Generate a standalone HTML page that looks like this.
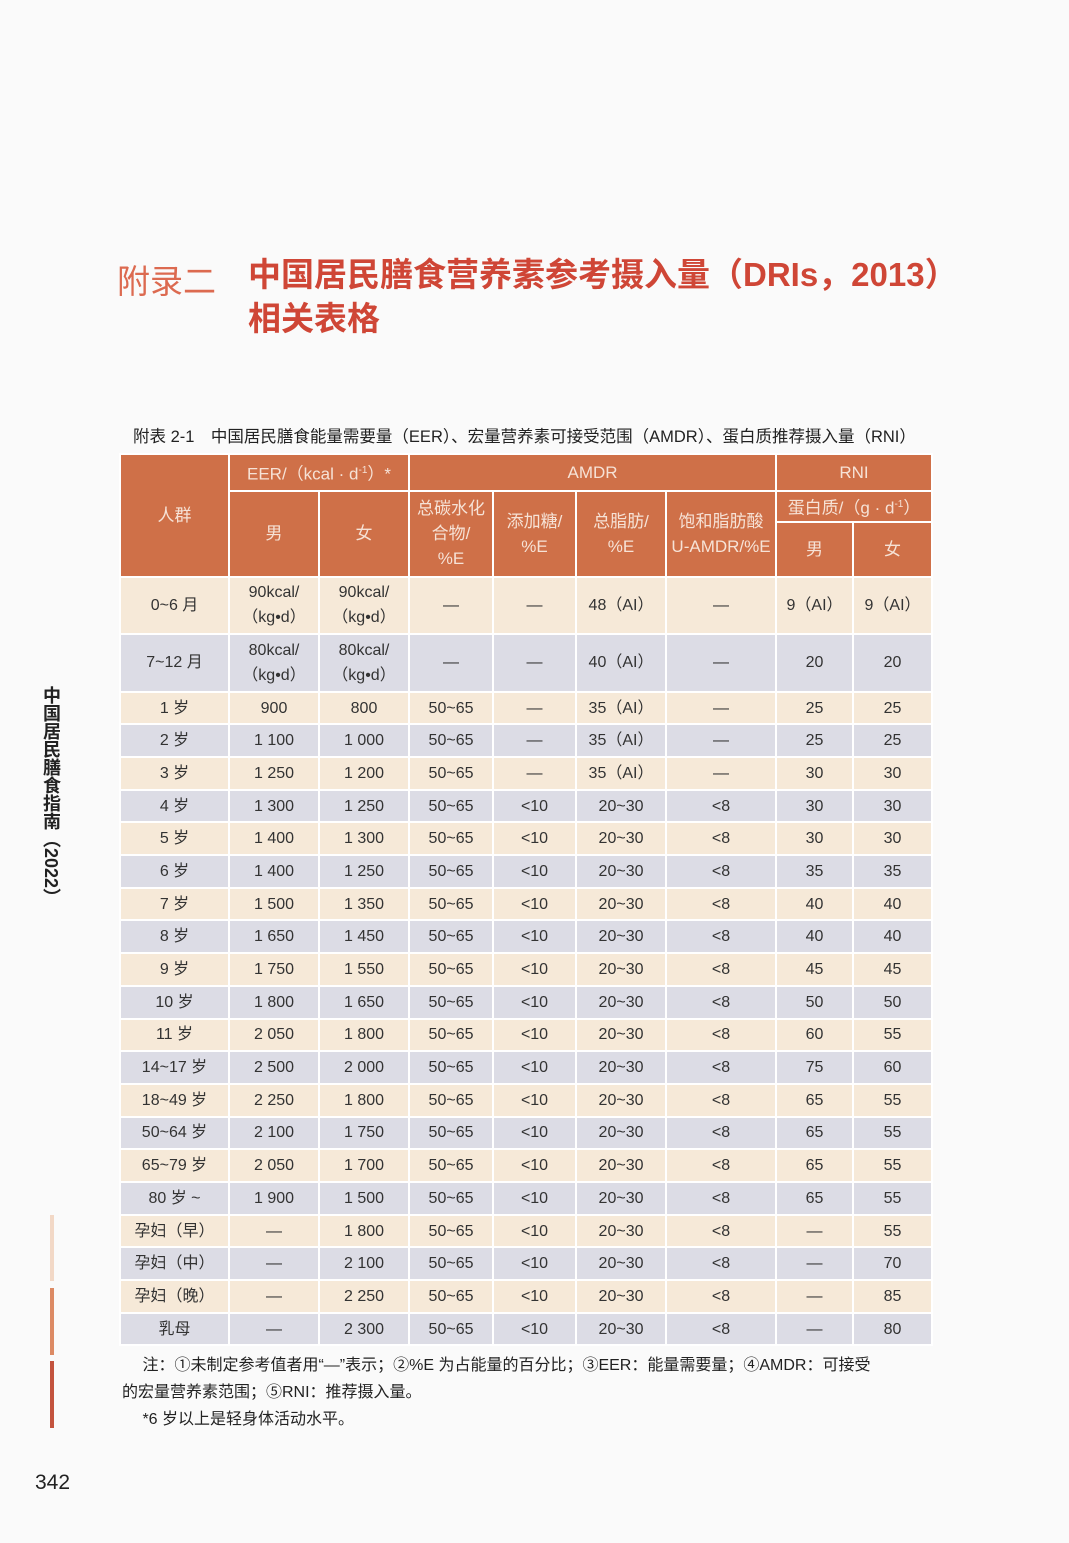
<!DOCTYPE html>
<html><head><meta charset="utf-8">
<style>
body{margin:0;width:1069px;height:1543px;background:#fafafa;position:relative;overflow:hidden;font-family:"Liberation Sans","Noto Sans CJK SC",sans-serif;color:#333}
.abs{position:absolute;white-space:nowrap}
table{position:absolute;left:119px;top:453px;width:812px;border-collapse:collapse;table-layout:fixed}
td{border:2px solid #fff;text-align:center;font-size:16px;padding:0;line-height:25px}
.h td{background:#cf7048;color:#f6e2d6;font-size:17px}
tr.c td{background:#f6e9d8}
tr.g td{background:#dcdce5}
</style></head><body>
<div class="abs" style="left:117px;top:255px;font-size:33px;color:#dc6a50">附录二</div>
<div class="abs" style="left:248px;top:253px;font-size:33px;font-weight:bold;color:#cf4636;line-height:44px">中国居民膳食营养素参考摄入量（DRIs，2013）<br>相关表格</div>
<div class="abs" style="left:133px;top:423px;font-size:16.5px;color:#222">附表 2-1　中国居民膳食能量需要量（EER）、宏量营养素可接受范围（AMDR）、蛋白质推荐摄入量（RNI）</div>
<table>
<colgroup><col style="width:109px"><col style="width:90px"><col style="width:90px"><col style="width:84px"><col style="width:83px"><col style="width:90px"><col style="width:110px"><col style="width:77px"><col style="width:79px"></colgroup>
<tbody id="tb">
<tr class="h" style="height:37px"><td rowspan="3">人群</td><td colspan="2">EER/（kcal · d<sup style="font-size:10px">-1</sup>）*</td><td colspan="4">AMDR</td><td colspan="2">RNI</td></tr>
<tr class="h" style="height:30px"><td rowspan="2">男</td><td rowspan="2">女</td><td rowspan="2">总碳水化<br>合物/<br>%E</td><td rowspan="2">添加糖/<br>%E</td><td rowspan="2">总脂肪/<br>%E</td><td rowspan="2">饱和脂肪酸<br>U-AMDR/%E</td><td colspan="2">蛋白质/（g · d<sup style="font-size:10px">-1</sup>）</td></tr>
<tr class="h" style="height:55px"><td>男</td><td>女</td></tr>
</tbody></table>
<div class="abs" style="left:38px;top:686px;writing-mode:vertical-rl;font-size:18px;font-weight:bold;color:#222">中国居民膳食指南（2022）</div>
<div class="abs" style="left:50px;top:1215px;width:4px;height:66px;background:#f2d8c6"></div>
<div class="abs" style="left:50px;top:1288px;width:4px;height:67px;background:#dc8a64"></div>
<div class="abs" style="left:50px;top:1361px;width:4px;height:67px;background:#c3533e"></div>
<div class="abs" style="left:122px;top:1352px;font-size:16px;line-height:27px;color:#222">　 注：①未制定参考值者用“—”表示；②%E 为占能量的百分比；③EER：能量需要量；④AMDR：可接受<br>的宏量营养素范围；⑤RNI：推荐摄入量。<br>　 *6 岁以上是轻身体活动水平。</div>
<div class="abs" style="left:35px;top:1471px;font-size:21px;color:#222">342</div>
<script>
const groups=["0~6 月","7~12 月","1 岁","2 岁","3 岁","4 岁","5 岁","6 岁","7 岁","8 岁","9 岁","10 岁","11 岁","14~17 岁","18~49 岁","50~64 岁","65~79 岁","80 岁 ~","孕妇（早）","孕妇（中）","孕妇（晚）","乳母"];
const eerMale=["90kcal/<br>（kg•d）","80kcal/<br>（kg•d）","900","1 100","1 250","1 300","1 400","1 400","1 500","1 650","1 750","1 800","2 050","2 500","2 250","2 100","2 050","1 900","—","—","—","—"];
const eerFemale=["90kcal/<br>（kg•d）","80kcal/<br>（kg•d）","800","1 000","1 200","1 250","1 300","1 250","1 350","1 450","1 550","1 650","1 800","2 000","1 800","1 750","1 700","1 500","1 800","2 100","2 250","2 300"];
const carb=["—","—"].concat(Array(20).fill("50~65"));
const sugar=["—","—","—","—","—"].concat(Array(17).fill("&lt;10"));
const fat=["48（AI）","40（AI）","35（AI）","35（AI）","35（AI）"].concat(Array(17).fill("20~30"));
const sfa=["—","—","—","—","—"].concat(Array(17).fill("&lt;8"));
const rniMale=["9（AI）","20","25","25","30","30","30","35","40","40","45","50","60","75","65","65","65","65","—","—","—","—"];
const rniFemale=["9（AI）","20","25","25","30","30","30","35","40","40","45","50","55","60","55","55","55","55","55","70","85","80"];
const tb=document.getElementById('tb');
groups.forEach((g,i)=>{
  const tr=document.createElement('tr');
  tr.className=i%2?'g':'c';
  tr.style.height=(i<2?57.5:32.7)+'px';
  
  
  [g,eerMale[i],eerFemale[i],carb[i],sugar[i],fat[i],sfa[i],rniMale[i],rniFemale[i]].forEach((v,j)=>{
    const td=document.createElement('td');
    td.innerHTML=v;
    
    
    tr.appendChild(td);
  });
  tb.appendChild(tr);
});
</script>
</body></html>
